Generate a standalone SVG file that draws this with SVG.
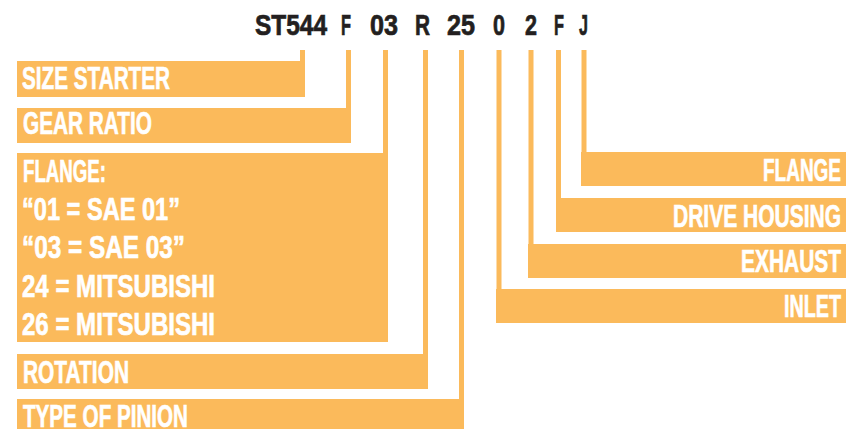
<svg xmlns="http://www.w3.org/2000/svg" width="846" height="429" viewBox="0 0 846 429">
<style>
.box{fill:#FBBA5B}
.con{stroke:#FBBA5B;stroke-width:5;fill:none}
.lbl{font-family:"Liberation Sans Narrow","Liberation Sans","DejaVu Sans Condensed",sans-serif;font-weight:bold;font-size:31.5px;fill:#FFFFFF;stroke:#FFFFFF;stroke-width:0.7}
.code{font-family:"Liberation Sans Narrow","Liberation Sans","DejaVu Sans Condensed",sans-serif;font-weight:bold;font-size:29px;fill:#231F20;stroke:#231F20;stroke-width:0.7}
</style>
<rect width="846" height="429" fill="#FFFFFF"/>
<g id="code">
<text class="code" x="255" y="35" textLength="72" lengthAdjust="spacingAndGlyphs">ST544</text>
<text class="code" x="341" y="35" textLength="10" lengthAdjust="spacingAndGlyphs">F</text>
<text class="code" x="370" y="35" textLength="28" lengthAdjust="spacingAndGlyphs">03</text>
<text class="code" x="415" y="35" textLength="15" lengthAdjust="spacingAndGlyphs">R</text>
<text class="code" x="447" y="35" textLength="28" lengthAdjust="spacingAndGlyphs">25</text>
<text class="code" x="493" y="35" textLength="12" lengthAdjust="spacingAndGlyphs">0</text>
<text class="code" x="525" y="35" textLength="12" lengthAdjust="spacingAndGlyphs">2</text>
<text class="code" x="554" y="35" textLength="10" lengthAdjust="spacingAndGlyphs">F</text>
<text class="code" x="579" y="35" textLength="9" lengthAdjust="spacingAndGlyphs">J</text>
</g>
<g id="connectors">
<line class="con" x1="302.5" y1="50" x2="302.5" y2="62"/>
<line class="con" x1="348.5" y1="50" x2="348.5" y2="109"/>
<line class="con" x1="385.5" y1="50" x2="385.5" y2="154"/>
<line class="con" x1="425.5" y1="50" x2="425.5" y2="355"/>
<line class="con" x1="461.5" y1="50" x2="461.5" y2="400"/>
<line class="con" x1="499" y1="50" x2="499" y2="290"/>
<line class="con" x1="531" y1="50" x2="531" y2="245"/>
<line class="con" x1="558.5" y1="50" x2="558.5" y2="199"/>
<line class="con" x1="584" y1="50" x2="584" y2="153"/>
</g>
<g id="size-starter">
<rect class="box" x="17" y="61" width="288" height="36"/>
<text class="lbl" x="22" y="89" textLength="148" lengthAdjust="spacingAndGlyphs">SIZE STARTER</text>
</g>
<g id="gear-ratio">
<rect class="box" x="17" y="108" width="334" height="35"/>
<text class="lbl" x="23" y="134" textLength="129" lengthAdjust="spacingAndGlyphs">GEAR RATIO</text>
</g>
<g id="flange-left">
<rect class="box" x="17" y="153" width="371" height="189"/>
<text class="lbl" x="23" y="182" textLength="83" lengthAdjust="spacingAndGlyphs">FLANGE:</text>
<text class="lbl" x="22" y="220" textLength="158" lengthAdjust="spacingAndGlyphs">“01 = SAE 01”</text>
<text class="lbl" x="22" y="258" textLength="163" lengthAdjust="spacingAndGlyphs">“03 = SAE 03”</text>
<text class="lbl" x="22" y="297" textLength="193" lengthAdjust="spacingAndGlyphs">24 = MITSUBISHI</text>
<text class="lbl" x="22" y="335" textLength="193" lengthAdjust="spacingAndGlyphs">26 = MITSUBISHI</text>
</g>
<g id="rotation">
<rect class="box" x="17" y="354" width="411" height="35"/>
<text class="lbl" x="23" y="383" textLength="106" lengthAdjust="spacingAndGlyphs">ROTATION</text>
</g>
<g id="type-of-pinion">
<rect class="box" x="17" y="399" width="447" height="30"/>
<text class="lbl" x="23" y="427" textLength="165" lengthAdjust="spacingAndGlyphs">TYPE OF PINION</text>
</g>
<g id="flange-right">
<rect class="box" x="581" y="152" width="265" height="34"/>
<text class="lbl" x="841" y="181" text-anchor="end" textLength="78" lengthAdjust="spacingAndGlyphs">FLANGE</text>
</g>
<g id="drive-housing">
<rect class="box" x="556" y="198" width="290" height="34"/>
<text class="lbl" x="841" y="227" text-anchor="end" textLength="168" lengthAdjust="spacingAndGlyphs">DRIVE HOUSING</text>
</g>
<g id="exhaust">
<rect class="box" x="528" y="244" width="318" height="34"/>
<text class="lbl" x="841" y="272" text-anchor="end" textLength="100" lengthAdjust="spacingAndGlyphs">EXHAUST</text>
</g>
<g id="inlet">
<rect class="box" x="496" y="289" width="350" height="34"/>
<text class="lbl" x="841" y="317" text-anchor="end" textLength="57" lengthAdjust="spacingAndGlyphs">INLET</text>
</g>
</svg>
